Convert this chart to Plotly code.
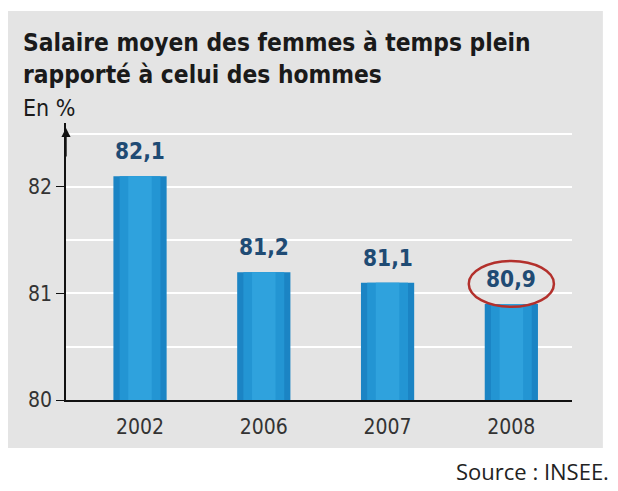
import plotly.graph_objects as go

years = ["2002", "2006", "2007", "2008"]
values = [82.1, 81.2, 81.1, 80.9]
ytick_vals = [80, 81, 82]
ytick_text = ["80", "81", "82"]
highlight_index = 3

title_text = "Salaire moyen des femmes à temps plein<br>rapporté à celui des hommes"
unit_text = "En %"
source_text = "Source : INSEE."

COND = "DejaVu Sans Condensed, Roboto Condensed, sans-serif"
BAR_EDGE = "#1b84c4"
BAR_MID = "#2395d3"
BAR_CENTER = "#2fa2dd"
LABEL_COL = "#1f4b74"

idx = list(range(len(years)))

fig = go.Figure()
for w, c in [(0.43, BAR_EDGE), (0.33, BAR_MID), (0.19, BAR_CENTER)]:
    fig.add_trace(go.Bar(x=idx, y=values, width=w, marker=dict(color=c, line=dict(width=0)),
                         hoverinfo="skip"))

annotations = []
for i, v in zip(idx, values):
    annotations.append(dict(x=i, y=v, xref="x", yref="y", text="<b>" + f"{v:.1f}".replace(".", ",") + "</b>",
                            showarrow=False, yanchor="bottom", yshift=10,
                            font=dict(family=COND, size=22.5, color=LABEL_COL)))

annotations.append(dict(xref="paper", yref="paper", x=-0.089, y=1.35, xanchor="left", yanchor="top",
                        text="<b>" + title_text + "</b>", showarrow=False, align="left",
                        font=dict(family=COND, size=24.3, color="#1a1a1a")))
annotations.append(dict(xref="paper", yref="paper", x=-0.089, y=1.055, xanchor="left", yanchor="middle",
                        text=unit_text, showarrow=False,
                        font=dict(family=COND, size=23, color="#1a1a1a")))
annotations.append(dict(xref="paper", yref="paper", x=1.077, y=-0.256, xanchor="right", yanchor="middle",
                        text=source_text, showarrow=False,
                        font=dict(family="Open Sans, DejaVu Sans, sans-serif", size=22, color="#222222")))
annotations.append(dict(xref="paper", yref="paper", x=0, y=0.982, ax=0, ay=30, text="", showarrow=True,
                        arrowhead=2, arrowsize=1.3, arrowwidth=1.4, arrowcolor="#111111"))

hv = values[highlight_index]
shapes = [
    dict(type="rect", xref="paper", yref="paper", x0=-0.115, x1=1.061, y0=-0.173, y1=1.404,
         fillcolor="#e4e4e4", line=dict(width=0), layer="below"),
    dict(type="circle", xref="x", yref="y", x0=highlight_index - 0.344, x1=highlight_index + 0.344,
         y0=hv - 0.025, y1=hv + 0.405, line=dict(color="#b3302c", width=2.5), layer="above"),
]

fig.update_layout(
    width=610, height=483,
    margin=dict(l=58, r=46, t=115, b=91),
    paper_bgcolor="white", plot_bgcolor="rgba(0,0,0,0)",
    barmode="overlay", showlegend=False,
    annotations=annotations, shapes=shapes,
    xaxis=dict(type="linear", range=[-0.598, 3.49], tickvals=idx, ticktext=years,
               showgrid=False, showline=True, linecolor="#111111", linewidth=1.5,
               ticks="", ticklabelstandoff=7, zeroline=False,
               tickfont=dict(family=COND, size=21, color="#333333")),
    yaxis=dict(range=[80, 82.6], tickvals=ytick_vals, ticktext=ytick_text, showline=True,
               linecolor="#111111", linewidth=1.5, ticks="outside", ticklen=8, tickcolor="#111111",
               showgrid=True, gridcolor="white", gridwidth=2, zeroline=False,
               minor=dict(dtick=0.5, showgrid=True, gridcolor="white", gridwidth=2, ticks=""),
               tickfont=dict(family=COND, size=21, color="#333333")),
)

fig.write_html("out.html")
